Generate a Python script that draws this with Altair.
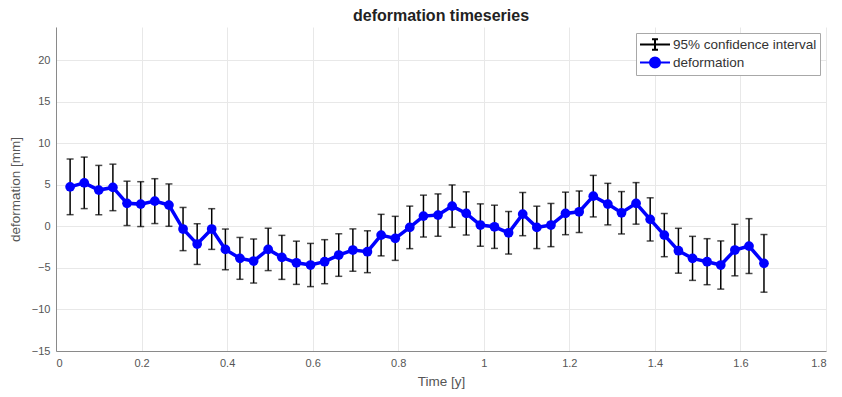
import altair as alt
import pandas as pd

# ---- data ----
time_y = [0.033, 0.066, 0.100, 0.133, 0.166, 0.198, 0.231, 0.264, 0.297, 0.330,
          0.364, 0.396, 0.430, 0.462, 0.496, 0.528, 0.562, 0.595, 0.628, 0.661,
          0.694, 0.728, 0.760, 0.793, 0.827, 0.859, 0.893, 0.926, 0.959, 0.992,
          1.025, 1.058, 1.091, 1.124, 1.157, 1.191, 1.223, 1.256, 1.290, 1.322,
          1.356, 1.389, 1.422, 1.455, 1.488, 1.522, 1.554, 1.587, 1.620, 1.655]

deformation_mm = [4.76, 5.24, 4.37, 4.69, 2.77, 2.68, 3.04, 2.56, -0.32, -2.13,
                  -0.32, -2.77, -3.85, -4.17, -2.77, -3.73, -4.38, -4.65, -4.25, -3.45,
                  -2.85, -3.05, -1.05, -1.44, -0.12, 1.24, 1.36, 2.44, 1.56, 0.16,
                  -0.05, -0.77, 1.48, -0.12, 0.16, 1.56, 1.76, 3.64, 2.68, 1.64,
                  2.77, 0.84, -1.05, -2.93, -3.85, -4.25, -4.65, -2.85, -2.37, -4.45]

ci95_mm = [3.35, 3.10, 2.97, 2.80, 2.67, 2.70, 2.70, 2.55, 2.60, 2.45,
           2.45, 2.45, 2.52, 2.65, 2.55, 2.65, 2.60, 2.60, 2.65, 2.56,
           2.55, 2.52, 2.50, 2.65, 2.56, 2.52, 2.55, 2.55, 2.60, 2.55,
           2.60, 2.56, 2.60, 2.55, 2.60, 2.56, 2.50, 2.50, 2.50, 2.55,
           2.50, 2.60, 2.60, 2.70, 2.65, 2.77, 2.90, 3.10, 3.30, 3.47]

series_names = ["95% confidence interval", "deformation"]
series_colors = ["#000000", "#0000ff"]
# legend glyphs: errorbar with caps, and line with filled marker
series_glyphs = ["M-1,0H3M1,-0.7V0.7M0.6,-0.7H1.4M0.6,0.7H1.4",
                 "M-1,0H3M0.33,0A0.67,0.67 0 1,0 1.67,0A0.67,0.67 0 1,0 0.33,0"]

x_ticks = [0, 0.2, 0.4, 0.6, 0.8, 1, 1.2, 1.4, 1.6, 1.8]
y_ticks = [-15, -10, -5, 0, 5, 10, 15, 20]

FONT = "Liberation Sans"

df = pd.DataFrame({"t": time_y, "d": deformation_mm, "e": ci95_mm})
df["lo"] = df["d"] - df["e"]
df["hi"] = df["d"] + df["e"]
legend_df = pd.DataFrame({"series": series_names})

legend = alt.Legend(
    orient="none", legendX=580, legendY=6, title=None,
    symbolSize=225, labelOffset=17, padding=3, rowPadding=-3,
    symbolOpacity=1, symbolStrokeWidth=2,
    strokeColor="#a8a8a8", fillColor="white",
    labelFontSize=13.5, labelFont=FONT, labelColor="#333333",
)

color = alt.Color("series:N", scale=alt.Scale(domain=series_names, range=series_colors),
                  legend=legend)
shape = alt.Shape("series:N", scale=alt.Scale(domain=series_names, range=series_glyphs),
                  legend=legend)

x = alt.X("t:Q", scale=alt.Scale(domain=[0, 1.8], nice=False, zero=False),
          axis=alt.Axis(values=x_ticks, format="~g", title="Time [y]"))
y_axis = alt.Axis(values=y_ticks, format="~g", title="deformation [mm]")
yscale = alt.Scale(domain=[-15, 24], nice=False, zero=False)

base = alt.Chart(df)

ci = base.transform_calculate(series="'95% confidence interval'")
bars = ci.mark_rule(strokeWidth=1.5).encode(
    x=x, y=alt.Y("lo:Q", scale=yscale, axis=y_axis), y2="hi:Q", color=color)
cap_lo = ci.mark_tick(orient="horizontal", size=7, thickness=1.5).encode(
    x=x, y=alt.Y("lo:Q", scale=yscale), color=color)
cap_hi = ci.mark_tick(orient="horizontal", size=7, thickness=1.5).encode(
    x=x, y=alt.Y("hi:Q", scale=yscale), color=color)

dm = base.transform_calculate(series="'deformation'")
line = dm.mark_line(strokeWidth=3.5).encode(
    x=x, y=alt.Y("d:Q", scale=yscale), color=color)
pts = dm.mark_point(filled=True, size=95, opacity=1).encode(
    x=x, y=alt.Y("d:Q", scale=yscale), color=color)

# invisible layer that only feeds the legend glyphs
key = alt.Chart(legend_df).mark_point(filled=True, opacity=0).encode(
    x=alt.value(0), y=alt.value(100), color=color, shape=shape)

chart = alt.layer(bars, cap_lo, cap_hi, line, pts, key).properties(
    width=770, height=324,
    padding={"left": 48, "top": 19, "right": 8, "bottom": 38},
    autosize=alt.AutoSizeParams(type="none"),
    background="white",
    title=alt.TitleParams("deformation timeseries", font=FONT, fontSize=16,
                          fontWeight="bold", color="#222222", anchor="middle",
                          offset=3),
).configure_view(stroke=None).configure_axis(
    labelFont=FONT, labelFontSize=11, labelColor="#555555",
    titleFont=FONT, titleFontSize=13.5, titleFontWeight="normal", titleColor="#555555",
    domainColor="#8a8a8a", domainWidth=1,
    grid=True, gridColor="#e8e8e8", gridWidth=1,
    ticks=False, labelPadding=6,
).configure_axisX(titlePadding=6).configure_axisY(titlePadding=9)

chart.save("out.html", embed_options={"renderer": "svg", "actions": False})
